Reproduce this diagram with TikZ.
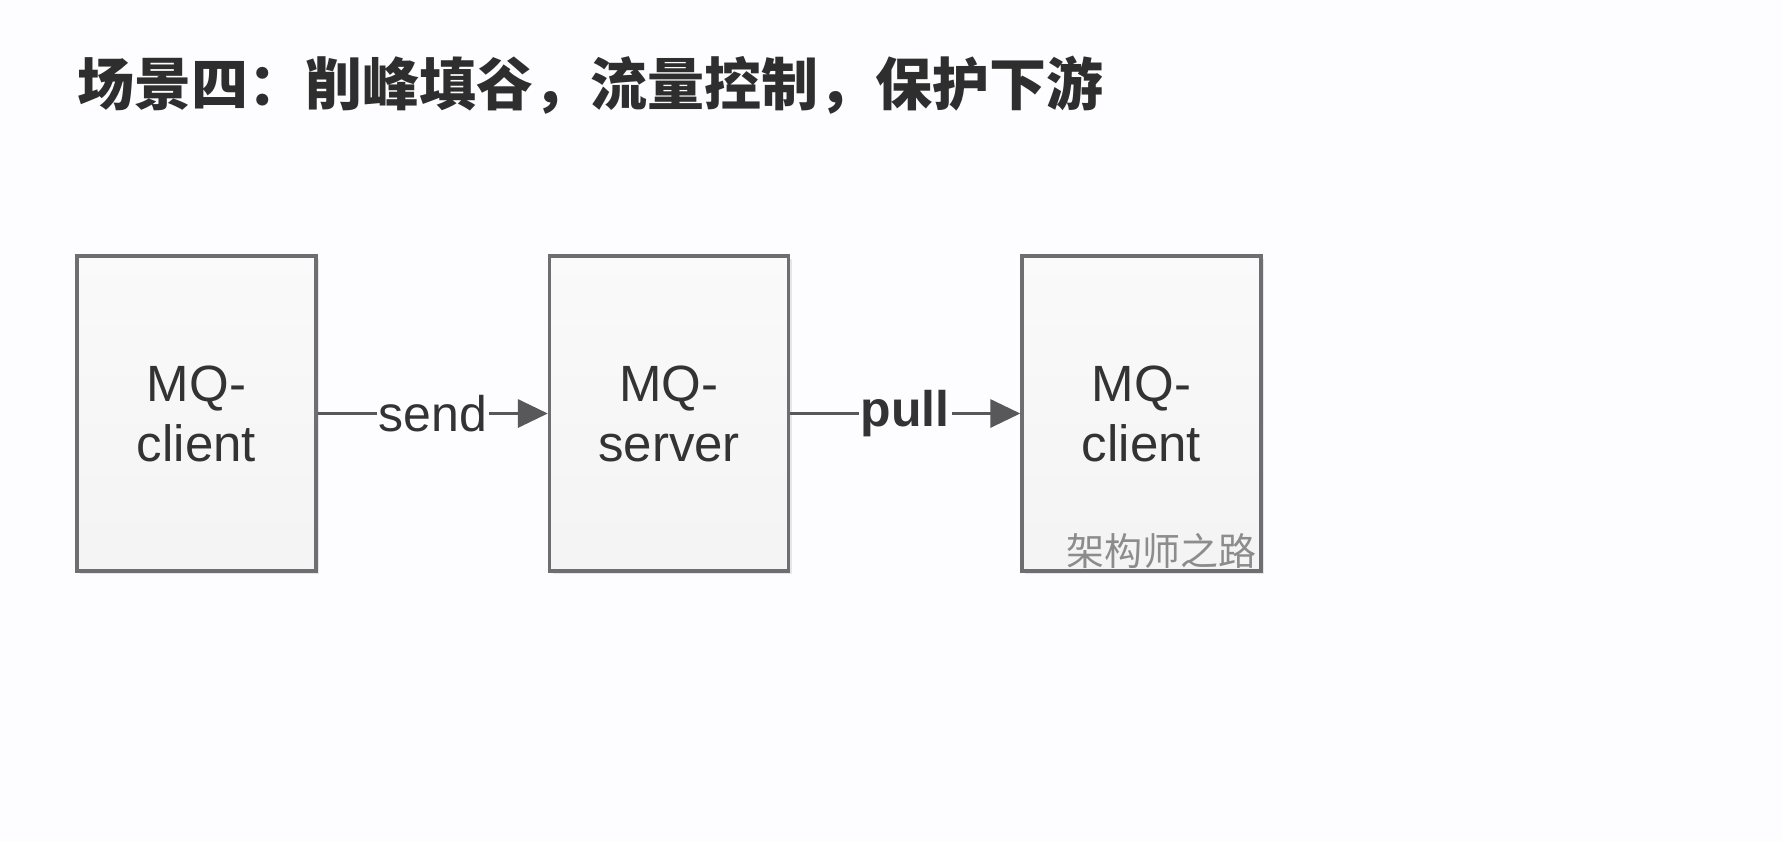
\documentclass[tikz,border=0pt]{standalone}
\usepackage{fontspec}
\usepackage{pgfplots}
\pgfplotsset{compat=1.18}
\usetikzlibrary{positioning,arrows.meta,shadows}
\setmainfont{Liberation Sans}
\newfontfamily\cjk{Noto Sans CJK SC}
\definecolor{bg}{HTML}{FDFCFE}
\definecolor{boxline}{HTML}{6E6D70}
\definecolor{arrowgray}{HTML}{58575A}

\begin{document}
\begin{tikzpicture}[x=1pt, y=-1pt, node distance=472.5pt, main/.style = {draw=boxline, line width=3.4pt, top color=white!96!gray, bottom color=white!91!gray, minimum width=239pt, minimum height=315pt, align=center, font=\fontsize{51}{60}\selectfont, text=black!80, drop shadow={opacity=0.18, shadow xshift=3pt, shadow yshift=-3pt}}]
	\tikzset{edge/.style = {-{Triangle[length=30pt,width=28pt]}, draw=arrowgray, line width=3.4pt}}
	\tikzset{lbl/.style = {fill=bg, inner xsep=2pt, inner ysep=0pt, text=black!80, font=\fontsize{50}{60}\selectfont}}
	\fill[bg] (0,0) rectangle (1782,841);
	\useasboundingbox (0,0) rectangle (1782,841);
	
		\node[anchor=west, text=black!82, inner sep=0pt] (title) at (77,85) {\cjk\fontsize{57}{57}\selectfont\bfseries 场景四：削峰填谷，流量控制，保护下游};
		
		\node[main] (1) at (196.5,413.5) {MQ-\\client};
		\node[main] (2) [right of=1] {MQ-\\server};
		\node[main] (3) [right of=2] {MQ-\\client};
		
		\node[text=black!45, inner sep=0pt] (mark) at (1161,551) {\cjk\fontsize{38}{38}\selectfont 架构师之路};
		
		\draw[edge] (1) to node[lbl] {send} (2);
		\draw[edge] (2) to node[lbl] {\bfseries pull} (3);
	\end{tikzpicture}
\end{document}
